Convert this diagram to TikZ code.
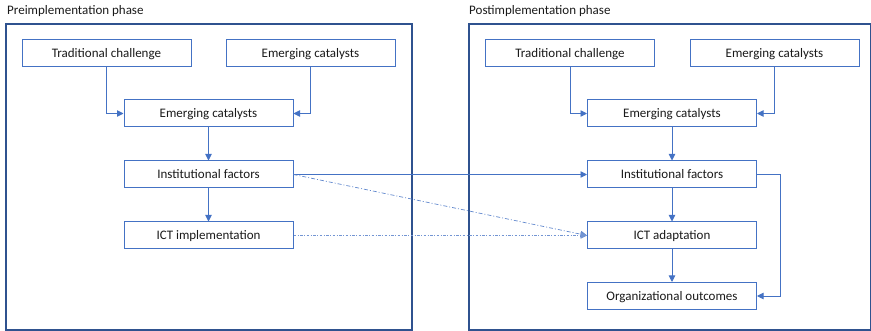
\documentclass[tikz,border=0pt]{standalone}
\usepackage{fontspec}
\setmainfont{Carlito}
\usetikzlibrary{arrows.meta}
\definecolor{boxblue}{HTML}{4472C4}
\definecolor{frameblue}{HTML}{2F528F}
\definecolor{txt}{HTML}{1A1A1A}
\tikzset{
  x=1pt, y=-1pt,
  stagebox/.style={draw=boxblue, line width=1pt, fill=white, minimum width=169pt,
    minimum height=27pt, inner sep=0pt, text height=10.5pt, text depth=1.5pt,
    text=txt, font=\fontsize{13}{15}\selectfont},
  phaseframe/.style={draw=frameblue, line width=1.1pt},
  phasetitle/.style={anchor=base west, inner sep=0pt, text=txt, font=\fontsize{13}{15}\selectfont},
  flow/.style={draw=boxblue, line width=0.9pt, -{Triangle[width=6.5pt,length=6.5pt]}},
  dashlink/.style={draw=boxblue!85, line width=0.7pt, dash pattern=on 4pt off 2pt on 1pt off 2pt,
    -{Triangle[width=6.5pt,length=6.5pt]}},
  dotlink/.style={draw=boxblue!75, line width=0.7pt, dash pattern=on 2.5pt off 1.5pt on 1pt off 1.5pt,
    -{Triangle[width=6.5pt,length=6.5pt]}}
}
\begin{document}
\begin{tikzpicture}
\useasboundingbox (0,0) rectangle (871,331);

% phase frames and titles
\draw[phaseframe] (6,24) rectangle (412,330);
\draw[phaseframe] (469,24) rectangle (870.3,330);
\node[phasetitle] (pretitle) at (7,15) {Preimplementation phase};
\node[phasetitle] (posttitle) at (469,15) {Postimplementation phase};

% preimplementation stages
\node[stagebox] (tc1) at (106.5,53.5) {Traditional challenge};
\node[stagebox] (ec1) at (310.5,53.5) {Emerging catalysts};
\node[stagebox] (em1) at (208.5,113.5) {Emerging catalysts};
\node[stagebox] (if1) at (208.5,174.5) {Institutional factors};
\node[stagebox] (ict1) at (208.5,235.5) {ICT implementation};

% postimplementation stages
\node[stagebox] (tc2) at (570,53.5) {Traditional challenge};
\node[stagebox] (ec2) at (774.5,53.5) {Emerging catalysts};
\node[stagebox] (em2) at (672,113.5) {Emerging catalysts};
\node[stagebox] (if2) at (672,174.5) {Institutional factors};
\node[stagebox] (icta) at (672,235.5) {ICT adaptation};
\node[stagebox] (oo) at (672,296) {Organizational outcomes};

% flows within the preimplementation phase
\draw[flow] (tc1.south) |- (em1.west);
\draw[flow] (ec1.south) |- (em1.east);
\draw[flow] (em1) -- (if1);
\draw[flow] (if1) -- (ict1);

% flows within the postimplementation phase
\draw[flow] (tc2.south) |- (em2.west);
\draw[flow] (ec2.south) |- (em2.east);
\draw[flow] (em2) -- (if2);
\draw[flow] (if2) -- (icta);
\draw[flow] (icta) -- (oo);
\draw[flow] (if2.east) -- ++(23,0) |- (oo.east);

% links between the phases
\draw[flow] (if1.east) -- (if2.west);
\draw[dashlink] (if1.east) -- (icta.west);
\draw[dotlink] (ict1.east) -- (icta.west);
\end{tikzpicture}
\end{document}
